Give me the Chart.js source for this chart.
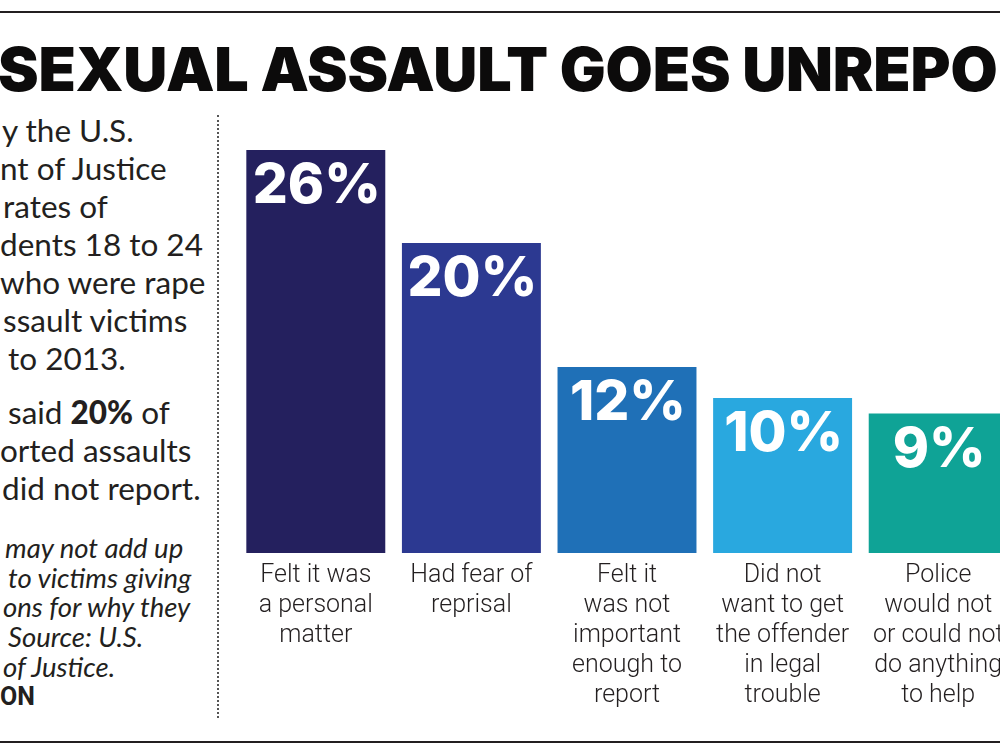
<!DOCTYPE html>
<html>
<head>
<meta charset="utf-8">
<script src="https://cdn.jsdelivr.net/npm/chart.js@4.4.1/dist/chart.umd.min.js"></script>
<style>
  html, body { margin:0; padding:0; width:1000px; height:750px; overflow:hidden; background:#fff; }
  #wrap { position:relative; width:1000px; height:750px; overflow:hidden; }
  .rule { position:absolute; left:0; width:1000px; background:#231f20; }
  #title { position:absolute; left:-2px; top:39px; font-family:'Inter', sans-serif; font-weight:900; font-size:61px; line-height:1; color:#0c0b0b; white-space:nowrap; letter-spacing:-0.2px; }
  .side { position:absolute; left:0; width:216px; overflow:hidden; color:#231f20; white-space:nowrap; }
  .side div { white-space:nowrap; }
  #p1 { top:111px; font-family:'Lato', sans-serif; font-size:31.5px; line-height:38px; }
  #p2 { top:393px; font-family:'Lato', sans-serif; font-size:31.5px; line-height:38px; }
  #p3 { top:533px; font-family:'Lato', sans-serif; font-style:italic; font-size:27.5px; line-height:29.7px; }
  #credit { font-style:normal; font-weight:700; font-family:'Liberation Sans Narrow','Roboto', sans-serif; font-size:25px; }
  #dots { position:absolute; left:217px; top:115px; height:603px; border-left:2px dotted #555; }
  #chartBox { position:absolute; left:230px; top:140px; }
</style>
</head>
<body>
<div id="wrap">
  <div class="rule" style="top:11px;height:2px;"></div>
  <div class="rule" style="top:741px;height:2px;"></div>
  <div id="title">SEXUAL ASSAULT GOES UNREPORTED</div>
  <div class="side" id="p1">
    <div style="padding-left:2px">y the U.S.</div>
    <div style="padding-left:0px">nt of Justice</div>
    <div style="padding-left:3px">rates of</div>
    <div style="padding-left:0px">dents 18 to 24</div>
    <div style="padding-left:0px">who were rape</div>
    <div style="padding-left:3px">ssault victims</div>
    <div style="padding-left:8px">to 2013.</div>
  </div>
  <div class="side" id="p2">
    <div style="padding-left:8px">said <b style="font-weight:900">20%</b> of</div>
    <div style="padding-left:0px">orted assaults</div>
    <div style="padding-left:2px">did not report.</div>
  </div>
  <div class="side" id="p3">
    <div style="padding-left:5px">may not add up</div>
    <div style="padding-left:8px">to victims giving</div>
    <div style="padding-left:3px">ons for why they</div>
    <div style="padding-left:8px">Source: U.S.</div>
    <div style="padding-left:3px">of Justice.</div>
    <div id="credit" style="padding-left:0px">ON</div>
  </div>
  <div id="dots"></div>
  <div id="chartBox"><canvas id="c" width="790" height="583"></canvas></div>
</div>
<script>
const categories = [
  ["Felt it was", "a personal", "matter"],
  ["Had fear of", "reprisal"],
  ["Felt it", "was not", "important", "enough to", "report"],
  ["Did not", "want to get", "the offender", "in legal", "trouble"],
  ["Police", "would not", "or could not", "do anything", "to help"]
];
const values = [26, 20, 12, 10, 9];
const barColors = ["#24205e", "#2c3991", "#1f70b7", "#29a8df", "#0fa396"];

const valueLabels = {
  id: 'valueLabels',
  afterDatasetsDraw(chart) {
    const ctx = chart.ctx;
    const meta = chart.getDatasetMeta(0);
    ctx.save();
    ctx.fillStyle = '#ffffff';
    ctx.font = '800 55px Inter, sans-serif';
    ctx.textAlign = 'center';
    ctx.textBaseline = 'alphabetic';
    meta.data.forEach((bar, i) => {
      ctx.fillText(values[i] + '%', bar.x + 1, bar.y + 53);
    });
    ctx.restore();
  }
};

new Chart(document.getElementById('c'), {
  type: 'bar',
  data: {
    labels: categories,
    datasets: [{
      data: values,
      backgroundColor: barColors,
      borderWidth: 0,
      barPercentage: 0.893,
      categoryPercentage: 1.0
    }]
  },
  options: {
    responsive: false,
    animation: false,
    devicePixelRatio: 1,
    layout: { padding: { left: 8, right: 4, top: 10, bottom: 4 } },
    plugins: { legend: { display: false }, tooltip: { enabled: false }, title: { display: false } },
    scales: {
      y: { display: false, min: 0, max: 26 },
      x: {
        grid: { display: false, drawTicks: false },
        border: { display: false },
        ticks: {
          padding: 8,
          color: '#231f20',
          font: { family: 'Roboto', weight: 300, size: 25, lineHeight: 1.2 },
          maxRotation: 0,
          autoSkip: false
        }
      }
    }
  },
  plugins: [valueLabels]
});
</script>
</body>
</html>
